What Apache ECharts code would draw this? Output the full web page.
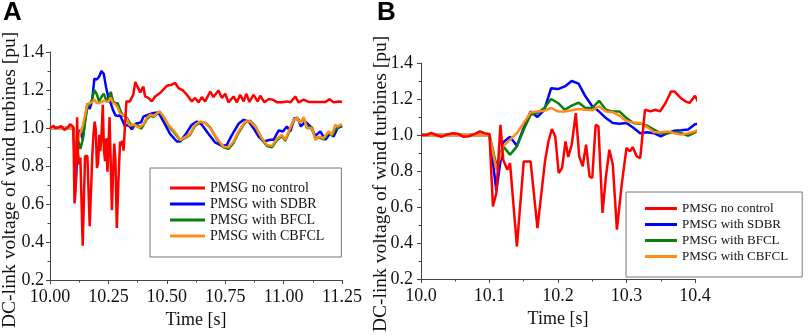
<!DOCTYPE html>
<html>
<head>
<meta charset="utf-8">
<script src="https://cdn.jsdelivr.net/npm/echarts@6/dist/echarts.min.js"></script>
<style>
    html, body { margin: 0; padding: 0; background: #fff; }
    #chart { width: 809px; height: 336px; }
</style>
</head>
<body>
<div id="chart"></div>
<script>
// series names (legend order)
var names = ['PMSG no control', 'PMSG with SDBR', 'PMSG with BFCL', 'PMSG with CBFCL'];

// [time s, voltage pu]
var noControl = [
    [10.0, 1.0], [10.008, 1.0], [10.015, 1.012], [10.022, 1.0], [10.03, 0.99], [10.038, 1.003],
    [10.047, 1.01], [10.055, 1.005], [10.062, 0.99], [10.07, 0.993], [10.078, 1.005], [10.086, 1.02],
    [10.093, 1.01], [10.1, 1.005], [10.105, 0.603], [10.11, 0.678], [10.116, 1.057], [10.12, 0.863],
    [10.126, 0.807], [10.13, 0.844], [10.14, 0.381], [10.15, 0.853], [10.16, 0.853], [10.17, 0.483],
    [10.181, 0.853], [10.186, 0.964], [10.191, 1.033], [10.196, 0.992], [10.201, 0.789], [10.206, 0.817],
    [10.211, 0.964], [10.215, 0.878], [10.22, 0.946], [10.226, 1.122], [10.231, 0.881], [10.236, 0.826],
    [10.241, 0.946], [10.246, 0.77], [10.25, 0.761], [10.255, 1.057], [10.259, 1.048], [10.265, 0.567],
    [10.27, 0.77], [10.275, 0.918], [10.28, 0.835], [10.286, 0.474], [10.293, 0.724], [10.3, 0.928],
    [10.305, 0.909], [10.309, 0.933], [10.315, 0.881], [10.32, 0.872], [10.327, 1.14], [10.335, 1.131],
    [10.342, 1.14], [10.349, 1.131], [10.357, 1.178], [10.365, 1.242], [10.37, 1.242], [10.379, 1.206],
    [10.386, 1.187], [10.392, 1.178], [10.4, 1.218], [10.407, 1.166], [10.421, 1.158], [10.436, 1.14],
    [10.45, 1.166], [10.471, 1.184], [10.5, 1.222], [10.521, 1.228], [10.536, 1.237], [10.55, 1.21],
    [10.569, 1.198], [10.586, 1.175], [10.607, 1.14], [10.621, 1.158], [10.636, 1.135], [10.65, 1.163],
    [10.664, 1.14], [10.686, 1.192], [10.7, 1.163], [10.721, 1.198], [10.736, 1.158], [10.75, 1.18],
    [10.764, 1.135], [10.786, 1.166], [10.8, 1.135], [10.814, 1.175], [10.829, 1.14], [10.84, 1.18],
    [10.854, 1.137], [10.871, 1.175], [10.889, 1.14], [10.9, 1.17], [10.918, 1.135], [10.936, 1.152],
    [10.955, 1.149], [10.972, 1.135], [10.993, 1.135], [11.015, 1.14], [11.029, 1.135], [11.05, 1.166],
    [11.064, 1.135], [11.086, 1.149], [11.107, 1.137], [11.143, 1.137], [11.179, 1.137], [11.197, 1.152],
    [11.214, 1.135], [11.236, 1.14], [11.25, 1.137]
];

var withSDBR = [
    [10.0, 1.0], [10.02, 1.0], [10.04, 1.0], [10.06, 1.0], [10.08, 1.0], [10.1, 1.0], [10.105, 0.85],
    [10.11, 0.69], [10.12, 0.96], [10.13, 0.99], [10.14, 0.94], [10.15, 1.04], [10.16, 1.13], [10.17, 1.10],
    [10.18, 1.14], [10.19, 1.26], [10.2, 1.255], [10.21, 1.27], [10.22, 1.30], [10.23, 1.285], [10.24, 1.215],
    [10.25, 1.16], [10.26, 1.13], [10.27, 1.094], [10.28, 1.067], [10.29, 1.063], [10.3, 1.067], [10.31, 1.04],
    [10.32, 1.01], [10.33, 1.015], [10.34, 1.01], [10.35, 0.993], [10.36, 1.01], [10.37, 1.024], [10.38, 1.026],
    [10.39, 1.03], [10.4, 1.06], [10.421, 1.07], [10.443, 1.079], [10.464, 1.082], [10.486, 1.034],
    [10.514, 0.969], [10.543, 0.929], [10.557, 0.929], [10.579, 0.964], [10.607, 1.017], [10.629, 1.034],
    [10.65, 1.017], [10.679, 0.969], [10.707, 0.924], [10.736, 0.906], [10.757, 0.911], [10.779, 0.964],
    [10.807, 1.022], [10.829, 1.043], [10.85, 1.034], [10.871, 0.999], [10.893, 0.955], [10.914, 0.929],
    [10.943, 0.938], [10.957, 0.938], [10.979, 0.987], [10.997, 0.982], [11.014, 1.008], [11.029, 0.982],
    [11.046, 1.052], [11.064, 1.043], [11.074, 1.008], [11.093, 1.034], [11.114, 1.008], [11.136, 0.959],
    [11.157, 0.982], [11.179, 0.938], [11.2, 0.973], [11.214, 0.955], [11.231, 0.999], [11.25, 1.01]
];

var withBFCL = [
    [10.0, 1.0], [10.02, 1.0], [10.04, 1.0], [10.06, 1.0], [10.08, 1.0], [10.1, 1.0], [10.11, 0.83],
    [10.12, 0.937], [10.13, 0.89], [10.14, 0.937], [10.15, 1.03], [10.16, 1.113], [10.17, 1.122],
    [10.18, 1.15], [10.19, 1.2], [10.2, 1.178], [10.21, 1.14], [10.22, 1.163], [10.23, 1.18], [10.24, 1.15],
    [10.25, 1.15], [10.26, 1.19], [10.27, 1.14], [10.28, 1.13], [10.29, 1.13], [10.3, 1.094], [10.31, 1.067],
    [10.32, 1.063], [10.33, 1.052], [10.34, 1.03], [10.35, 1.01], [10.36, 1.01], [10.37, 1.015], [10.38, 1.01],
    [10.39, 0.996], [10.4, 1.015], [10.414, 1.045], [10.429, 1.065], [10.443, 1.058], [10.469, 1.085],
    [10.486, 1.058], [10.507, 1.012], [10.536, 0.97], [10.557, 0.935], [10.579, 0.948], [10.6, 0.965],
    [10.621, 1.012], [10.643, 1.03], [10.664, 1.028], [10.686, 1.002], [10.714, 0.942], [10.743, 0.898],
    [10.764, 0.89], [10.786, 0.922], [10.807, 0.975], [10.836, 1.03], [10.857, 1.038], [10.879, 1.01],
    [10.907, 0.94], [10.929, 0.905], [10.95, 0.898], [10.971, 0.935], [10.993, 0.958], [11.007, 0.932],
    [11.025, 0.985], [11.043, 1.04], [11.057, 1.055], [11.071, 1.03], [11.086, 1.05], [11.1, 1.0],
    [11.121, 1.005], [11.136, 0.945], [11.154, 0.95], [11.171, 0.94], [11.193, 0.975], [11.207, 0.96],
    [11.221, 0.99], [11.231, 1.0], [11.25, 1.015]
];

var withCBFCL = [
    [10.0, 1.0], [10.02, 1.0], [10.04, 1.0], [10.06, 1.0], [10.08, 1.0], [10.1, 1.0], [10.11, 0.807],
    [10.12, 0.937], [10.13, 0.974], [10.14, 1.01], [10.15, 1.067], [10.16, 1.126], [10.17, 1.131],
    [10.18, 1.135], [10.19, 1.15], [10.2, 1.131], [10.21, 1.131], [10.22, 1.137], [10.23, 1.144], [10.24, 1.14],
    [10.25, 1.137], [10.26, 1.16], [10.27, 1.131], [10.28, 1.126], [10.29, 1.107], [10.3, 1.076], [10.31, 1.07],
    [10.32, 1.067], [10.33, 1.044], [10.34, 1.015], [10.35, 1.015], [10.36, 1.02], [10.37, 1.01], [10.38, 1.002],
    [10.39, 1.01], [10.4, 1.02], [10.414, 1.052], [10.429, 1.07], [10.443, 1.061], [10.469, 1.088],
    [10.486, 1.061], [10.507, 1.017], [10.536, 0.977], [10.557, 0.938], [10.579, 0.952], [10.6, 0.969],
    [10.621, 1.017], [10.643, 1.034], [10.664, 1.026], [10.686, 0.999], [10.714, 0.946], [10.743, 0.902],
    [10.764, 0.898], [10.786, 0.929], [10.807, 0.982], [10.836, 1.034], [10.857, 1.034], [10.879, 1.008],
    [10.907, 0.946], [10.929, 0.911], [10.95, 0.906], [10.971, 0.942], [10.993, 0.964], [11.007, 0.938],
    [11.025, 0.991], [11.043, 1.043], [11.057, 1.052], [11.071, 1.026], [11.086, 1.057], [11.1, 0.999],
    [11.121, 0.999], [11.136, 0.938], [11.154, 0.955], [11.171, 0.946], [11.193, 0.982], [11.207, 0.964],
    [11.221, 1.017], [11.231, 1.008], [11.25, 1.02]
];

var colors = ['#ff0000', '#0000ff', '#0a800a', '#ff8c1a'];
var serif = 'Liberation Serif';
var yTitle = 'DC-link voltage of wind turbines [pu]';
var xTitle = 'Time [s]';

function makeXAxis(grid, max, step, digits, margin) {
    return {
        gridIndex: grid,
        type: 'value',
        min: 10,
        max: max,
        interval: step,
        name: xTitle,
        nameLocation: 'middle',
        nameGap: 31,
        nameTextStyle: { fontFamily: serif, fontSize: 18, color: '#111' },
        axisLine: { lineStyle: { color: '#444', width: 1 } },
        axisTick: { length: 4, lineStyle: { color: '#444' } },
        minorTick: { show: true, splitNumber: 2, length: 2.5, lineStyle: { color: '#444' } },
        splitLine: { show: false },
        axisLabel: {
            margin: margin,
            fontFamily: serif,
            fontSize: 18,
            color: '#111',
            formatter: function(v) { return v.toFixed(digits); }
        }
    };
}

function makeYAxis(grid, margin) {
    return {
        gridIndex: grid,
        type: 'value',
        min: 0.2,
        max: 1.4,
        interval: 0.2,
        axisLine: { show: true, lineStyle: { color: '#444', width: 1 } },
        axisTick: { show: true, length: 4, lineStyle: { color: '#444' } },
        minorTick: { show: true, splitNumber: 2, length: 2.5, lineStyle: { color: '#444' } },
        splitLine: { show: false },
        axisLabel: {
            margin: margin,
            fontFamily: serif,
            fontSize: 18,
            color: '#111',
            formatter: function(v) { return v.toFixed(1); }
        }
    };
}

// y titles sit a bit below the middle of the axis in the original
function yTitleText(x, y) {
    return {
        type: 'text',
        x: x,
        y: y,
        rotation: Math.PI / 2,
        style: {
            text: yTitle,
            font: '19.5px "' + serif + '"',
            fill: '#111',
            align: 'center',
            verticalAlign: 'middle'
        }
    };
}

// draw order: SDBR, BFCL, CBFCL, then no control on top
var dataByName = {};
dataByName[names[0]] = noControl;
dataByName[names[1]] = withSDBR;
dataByName[names[2]] = withBFCL;
dataByName[names[3]] = withCBFCL;
var drawOrder = [1, 2, 3, 0];

var series = [];
[0, 1].forEach(function(g) {
    drawOrder.forEach(function(i) {
        series.push({
            name: names[i],
            type: 'line',
            xAxisIndex: g,
            yAxisIndex: g,
            data: dataByName[names[i]],
            showSymbol: false,
            symbol: 'none',
            clip: true,
            color: colors[i],
            lineStyle: { color: colors[i], width: 2.5 }
        });
    });
});

function makeLegend(left, top, pad, w, gap, size) {
    return {
        data: names,
        orient: 'vertical',
        left: left,
        top: top,
        padding: pad,
        itemGap: gap,
        itemWidth: w,
        itemHeight: 3,
        icon: 'rect',
        backgroundColor: '#fff',
        borderColor: '#777',
        borderWidth: 1,
        selectedMode: false,
        textStyle: { fontFamily: serif, fontSize: size, color: '#111' }
    };
}

var chart = echarts.init(document.getElementById('chart'), null, { renderer: 'canvas' });
chart.setOption({
    backgroundColor: '#fff',
    animation: false,
    grid: [
        { left: 50, top: 52, width: 292, height: 228 },
        { left: 421, top: 63, width: 274, height: 216 }
    ],
    xAxis: [makeXAxis(0, 11.25, 0.25, 2, 8), makeXAxis(1, 10.4, 0.1, 1, 8)],
    yAxis: [makeYAxis(0, 6), makeYAxis(1, 8)],
    legend: [
        makeLegend(150, 168, [13, 17, 14, 20], 35, 2, 14),
        makeLegend(626, 192, [10, 14, 14, 19], 32, 3, 13)
    ],
    graphic: [
        { type: 'text', left: 3, top: 0, style: { text: 'A', font: 'bold 26px "Liberation Sans"', fill: '#000' } },
        { type: 'text', left: 377, top: 0, style: { text: 'B', font: 'bold 26px "Liberation Sans"', fill: '#000' } },
        yTitleText(10, 180),
        yTitleText(381, 184)
    ],
    series: series
});
</script>
</body>
</html>
